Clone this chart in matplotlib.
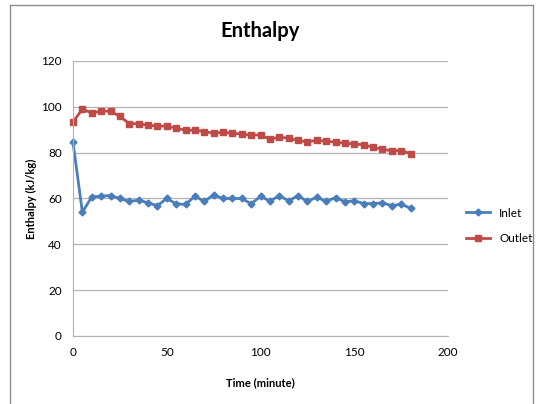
import matplotlib
matplotlib.use("Agg")
import matplotlib.pyplot as plt
from matplotlib.patches import Rectangle

plt.rcParams["font.family"] = ["Lato", "DejaVu Sans"]

time_min = list(range(0, 181, 5))
inlet = [84.5, 54.0, 60.7, 61.0, 61.3, 60.0, 58.7, 59.3, 58.1, 56.9,
         60.0, 57.7, 57.4, 61.0, 58.7, 61.6, 60.0, 60.0, 60.0, 57.7,
         60.9, 58.9, 61.2, 59.0, 61.2, 58.7, 60.6, 58.7, 60.4, 58.6,
         59.0, 57.8, 57.8, 58.1, 56.9, 57.5, 55.8]
outlet = [93.4, 99.0, 97.3, 98.1, 98.1, 95.8, 92.7, 92.6, 92.0, 91.6,
          91.6, 90.7, 89.8, 89.8, 89.2, 88.5, 88.9, 88.5, 88.1, 87.6,
          87.8, 85.8, 86.8, 86.3, 85.4, 84.7, 85.4, 85.0, 84.6, 84.1,
          83.8, 83.4, 82.4, 81.5, 80.8, 80.9, 79.6]

fig = plt.figure(figsize=(5.39, 4.04), dpi=100)
# chart border
fig.patches.append(Rectangle((10 / 539, -0.02), 523 / 539, 1.0 - 5 / 404 + 0.02,
                             transform=fig.transFigure, fill=False,
                             edgecolor="#8c8c8c", linewidth=1.0))

ax = fig.add_axes([73 / 539, 1 - 336 / 404, 375 / 539, 275 / 404])

ax.plot(time_min, inlet, color="#4A7EBB", marker="D", markersize=3.5,
        linewidth=2, label="Inlet", clip_on=False)
ax.plot(time_min, outlet, color="#BE4B48", marker="s", markersize=5,
        linewidth=2, label="Outlet", clip_on=False)

ax.set_xlim(0, 200)
ax.set_ylim(0, 120)
ax.set_xticks(range(0, 201, 50))
ax.set_yticks(range(0, 121, 20))
ax.grid(axis="y", color="#b3b3b3", linewidth=0.9)
ax.set_axisbelow(True)
for s in ["top", "right"]:
    ax.spines[s].set_visible(False)
for s in ["left", "bottom"]:
    ax.spines[s].set_color("#b3b3b3")
ax.tick_params(length=0, labelsize=8.5, pad=8)

ax.set_title("Enthalpy", fontsize=14.5, fontweight="bold", pad=17)
ax.set_xlabel("Time (minute)", fontsize=8, fontweight="bold", labelpad=14)
ax.set_ylabel("Enthalpy (kJ/kg)", fontsize=8, fontweight="bold", labelpad=3)

ax.legend(loc="center left", bbox_to_anchor=(1.02, 0.40), frameon=False,
          fontsize=8.5, handlelength=2, labelspacing=1.25)

fig.savefig("out.png", dpi=100)
